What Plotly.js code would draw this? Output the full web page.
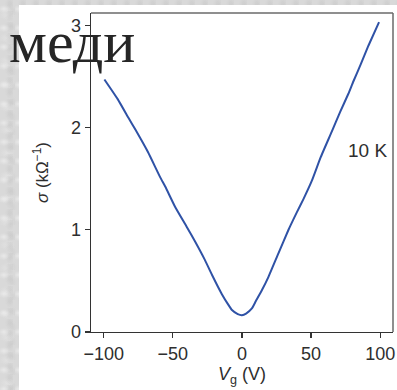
<!DOCTYPE html>
<html>
<head>
<meta charset="utf-8">
<script src="https://cdn.plot.ly/plotly-3.0.1.min.js"></script>
<style>
  html, body { margin: 0; padding: 0; }
  body {
    width: 397px; height: 390px; overflow: hidden; position: relative;
    background-color: #d9d9d9;
    background-image:
      radial-gradient(ellipse 6px 4px at 4px 9px, rgba(245,245,245,0.55), transparent),
      radial-gradient(ellipse 5px 7px at 10px 4px, rgba(185,185,185,0.35), transparent),
      radial-gradient(ellipse 8px 5px at 7px 15px, rgba(235,235,235,0.45), transparent),
      radial-gradient(ellipse 4px 6px at 13px 12px, rgba(195,195,195,0.3), transparent);
    background-size: 15px 19px, 13px 11px, 19px 23px, 17px 15px;
  }
  #panel { position: absolute; left: 19px; top: 5px; width: 378px; height: 385px; background: #ffffff; }
  #plot { position: absolute; left: 0; top: 0; width: 397px; height: 390px; }
  #word {
    position: absolute; left: 9px; top: 29px;
    font-family: "Liberation Serif", "DejaVu Serif", serif;
    font-size: 60px; line-height: 26px; color: #262626; white-space: nowrap;
  }
</style>
</head>
<body>
<div id="panel"></div>
<div id="plot"></div>
<div id="word">меди</div>
<script>
// Gate voltage (V) and conductivity sigma (kΩ^-1)
const vg = [-99.5, -90, -81.9, -77.1, -68, -59.0, -55.4, -48.2, -40, -33.7, -27, -21.7, -14.5, -10, -7.2, -3, 0, 3, 7.2, 10, 14.5, 19.2, 26.4, 33.7, 39.7, 44.5, 50.6, 57, 65.0, 71, 77.0, 80.6, 86, 91.5, 99.2];
const sigma = [2.47, 2.28, 2.09, 1.98, 1.76, 1.51, 1.42, 1.22, 1.03, 0.88, 0.71, 0.56, 0.37, 0.27, 0.215, 0.175, 0.165, 0.18, 0.23, 0.30, 0.41, 0.54, 0.77, 1.00, 1.17, 1.30, 1.48, 1.71, 1.96, 2.15, 2.33, 2.45, 2.62, 2.80, 3.03];
const xTicks = [-100, -50, 0, 50, 100];
const xTickText = ['\u2212100', '\u221250', '0', '50', '100'];
const yTicks = [0, 1, 2, 3];
const yTickText = ['0', '1', '2', '3'];
const tempLabel = '10 K';

const fam = '"Liberation Sans", Arial, sans-serif';
const font = { family: fam, size: 18, color: '#2e2e2e' };

Plotly.newPlot('plot', [{
  x: vg, y: sigma, type: 'scatter', mode: 'lines',
  line: { color: '#2f52a6', width: 2, shape: 'spline', smoothing: 0.4 },
  hoverinfo: 'none'
}], {
  width: 397, height: 390,
  margin: { l: 91, r: 4, t: 13, b: 58, pad: 0 },
  paper_bgcolor: 'rgba(0,0,0,0)',
  plot_bgcolor: '#ffffff',
  showlegend: false,
  font: font,
  xaxis: {
    range: [-109.2, 109.3], tickvals: xTicks, ticktext: xTickText,
    ticks: 'outside', ticklen: 5, tickwidth: 1.3, tickcolor: '#333',
    showline: true, linecolor: '#333', linewidth: 1.4, mirror: false,
    showgrid: false, zeroline: false, automargin: false,
    tickfont: font,
    title: { text: '<i>V</i><sub>g</sub> (V)', font: font, standoff: 1 }
  },
  yaxis: {
    range: [0, 3.12], tickvals: yTicks, ticktext: yTickText,
    ticks: 'outside', ticklen: 5, tickwidth: 1.3, tickcolor: '#333',
    showline: true, linecolor: '#333', linewidth: 1.4, mirror: false,
    showgrid: false, zeroline: false, automargin: false,
    tickfont: font,
    title: { text: '<i>σ</i> (kΩ<sup>−1</sup>)', font: { family: fam, size: 17, color: '#2e2e2e' }, standoff: 18 }
  },
  shapes: [
    { type: 'line', xref: 'paper', yref: 'paper', x0: 0, x1: 1, y0: 1, y1: 1, line: { color: '#6a6a6a', width: 1.5 } },
    { type: 'line', xref: 'paper', yref: 'paper', x0: 1, x1: 1, y0: 0, y1: 1, line: { color: '#6a6a6a', width: 1.5 } }
  ],
  annotations: [{
    x: 75.4, y: 1.78, xref: 'x', yref: 'y', xanchor: 'left', yanchor: 'middle',
    text: tempLabel, showarrow: false, font: { family: fam, size: 19, color: '#2e2e2e' }
  }]
}, { displayModeBar: false, staticPlot: true });
</script>
</body>
</html>
